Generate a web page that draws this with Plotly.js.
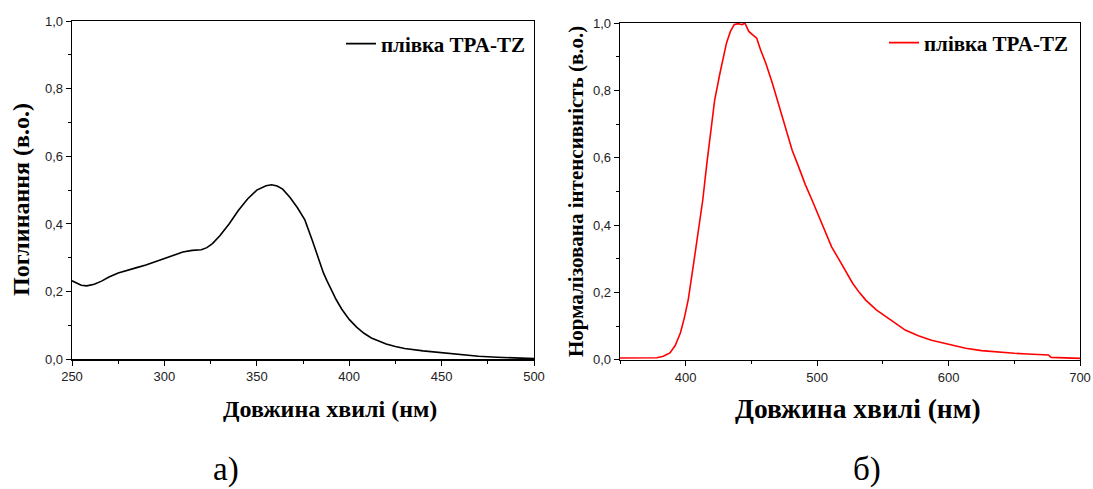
<!DOCTYPE html>
<html>
<head>
<meta charset="utf-8">
<script src="https://cdn.plot.ly/plotly-3.0.1.min.js"></script>
<style>html,body{margin:0;padding:0;background:#fff;}#chart{width:1093px;height:489px;}</style>
</head>
<body>
<div id="chart"></div>
<script>
// Absorption spectrum (left panel)
const absWavelength = [250,252,255,258,262,266,270,275,280,285,290,295,300,305,310,315,320,323,326,330,335,340,345,350,355,358,361,364,368,372,376,380,384,386,388,390,393,396,400,404,408,412,416,420,425,430,440,450,460,470,480,490,500];
const absValue = [0.232,0.226,0.219,0.217,0.222,0.231,0.243,0.255,0.264,0.271,0.279,0.289,0.299,0.308,0.317,0.322,0.324,0.330,0.342,0.365,0.400,0.440,0.474,0.500,0.513,0.516,0.512,0.503,0.478,0.448,0.412,0.352,0.290,0.256,0.232,0.210,0.176,0.148,0.118,0.095,0.077,0.063,0.053,0.045,0.038,0.032,0.025,0.019,0.013,0.009,0.006,0.004,0.002];

// Normalised photoluminescence spectrum (right panel)
const plWavelength = [350,360,370,378,383,388,392,396,399,402,406,409,413,416,419.5,422,426,429,431,434,437,440,443,445,448,451,454,457,461,466,471,476,481,486,491,496,501,506,511,517,522,527,532,537,545,552,560,567,577,587,600,613,625,638,650,660,676,678,690,700];
const plValue = [0.005,0.005,0.005,0.006,0.010,0.020,0.042,0.080,0.125,0.180,0.285,0.370,0.475,0.580,0.700,0.770,0.850,0.910,0.940,0.975,0.996,0.998,0.995,1.000,0.975,0.965,0.955,0.920,0.880,0.820,0.755,0.690,0.622,0.572,0.520,0.475,0.430,0.380,0.335,0.295,0.260,0.227,0.200,0.177,0.148,0.128,0.107,0.088,0.071,0.058,0.045,0.034,0.027,0.022,0.019,0.017,0.014,0.007,0.006,0.004];

const legendLabel = 'плівка TPA-TZ';
const xTitle = 'Довжина хвилі (нм)';
const yTitleLeft = 'Поглинання (в.о.)';
const yTitleRight = 'Нормалізована інтенсивність (в.о.)';
const panelLabels = ['а)', 'б)'];

const W = 1093, H = 489;
const px = v => v / W;
const py = v => 1 - v / H;
const SERIF = 'Liberation Serif';
const SANS = 'Liberation Sans';

const traces = [
  {x: absWavelength, y: absValue, type: 'scatter', mode: 'lines', name: legendLabel,
   line: {color: '#000000', width: 1.6}, xaxis: 'x', yaxis: 'y', legend: 'legend'},
  {x: plWavelength, y: plValue, type: 'scatter', mode: 'lines', name: legendLabel,
   line: {color: '#ff0000', width: 1.6}, xaxis: 'x2', yaxis: 'y2', legend: 'legend2'}
];

const tickFont = {family: SANS, size: 13, color: '#222'};
function axis(extra) {
  return Object.assign({
    showgrid: false, zeroline: false, showline: true, linecolor: '#000', linewidth: 1.3,
    mirror: true, ticks: 'outside', ticklen: 5, tickwidth: 1, tickcolor: '#000',
    tickfont: tickFont, fixedrange: true
  }, extra);
}

const layout = {
  width: W, height: H,
  margin: {l: 0, r: 0, t: 0, b: 0},
  paper_bgcolor: '#fff', plot_bgcolor: '#fff',
  separators: ', ',
  font: {family: SERIF},
  xaxis: axis({domain: [px(72), px(534)], range: [250, 500], dtick: 50, tick0: 250,
    minor: {ticks: 'outside', ticklen: 3, dtick: 25, tick0: 250, tickcolor: '#000'}, anchor: 'y'}),
  yaxis: axis({domain: [py(359.3), py(21)], range: [0, 1], dtick: 0.2, tickformat: '.1f',
    minor: {ticks: 'outside', ticklen: 3, dtick: 0.1, tickcolor: '#000'}, anchor: 'x'}),
  xaxis2: axis({domain: [px(620), px(1080)], range: [350, 700], dtick: 100, tick0: 400,
    minor: {ticks: 'outside', ticklen: 3, dtick: 50, tick0: 350, tickcolor: '#000'}, anchor: 'y2'}),
  yaxis2: axis({domain: [py(359.7), py(23)], range: [0, 1], dtick: 0.2, tickformat: '.1f',
    minor: {ticks: 'outside', ticklen: 3, dtick: 0.1, tickcolor: '#000'}, anchor: 'x2'}),
  showlegend: true,
  legend: {x: px(531), y: py(44), xanchor: 'right', yanchor: 'middle', bgcolor: 'rgba(0,0,0,0)',
    font: {family: SERIF, size: 21, color: '#000', weight: 'bold'}},
  legend2: {x: px(1074), y: py(43), xanchor: 'right', yanchor: 'middle', bgcolor: 'rgba(0,0,0,0)',
    font: {family: SERIF, size: 21, color: '#000', weight: 'bold'}},
  annotations: [
    {text: xTitle, xref: 'paper', yref: 'paper', x: px(330), y: py(409),
     showarrow: false, xanchor: 'center', yanchor: 'middle',
     font: {family: SERIF, size: 24, color: '#000', weight: 'bold'}},
    {text: xTitle, xref: 'paper', yref: 'paper', x: px(858), y: py(408),
     showarrow: false, xanchor: 'center', yanchor: 'middle',
     font: {family: SERIF, size: 27.5, color: '#000', weight: 'bold'}},
    {text: yTitleLeft, xref: 'paper', yref: 'paper', x: px(21), y: py(200),
     showarrow: false, xanchor: 'center', yanchor: 'middle', textangle: -90,
     font: {family: SERIF, size: 24, color: '#000', weight: 'bold'}},
    {text: yTitleRight, xref: 'paper', yref: 'paper', x: px(576), y: py(192),
     showarrow: false, xanchor: 'center', yanchor: 'middle', textangle: -90,
     font: {family: SERIF, size: 21, color: '#000', weight: 'bold'}},
    {text: panelLabels[0], xref: 'paper', yref: 'paper', x: px(226), y: py(469),
     showarrow: false, xanchor: 'center', yanchor: 'middle',
     font: {family: SERIF, size: 33, color: '#000'}},
    {text: panelLabels[1], xref: 'paper', yref: 'paper', x: px(867), y: py(469),
     showarrow: false, xanchor: 'center', yanchor: 'middle',
     font: {family: SERIF, size: 33, color: '#000'}}
  ]
};

Plotly.newPlot('chart', traces, layout, {displayModeBar: false, staticPlot: true});
</script>
</body>
</html>
